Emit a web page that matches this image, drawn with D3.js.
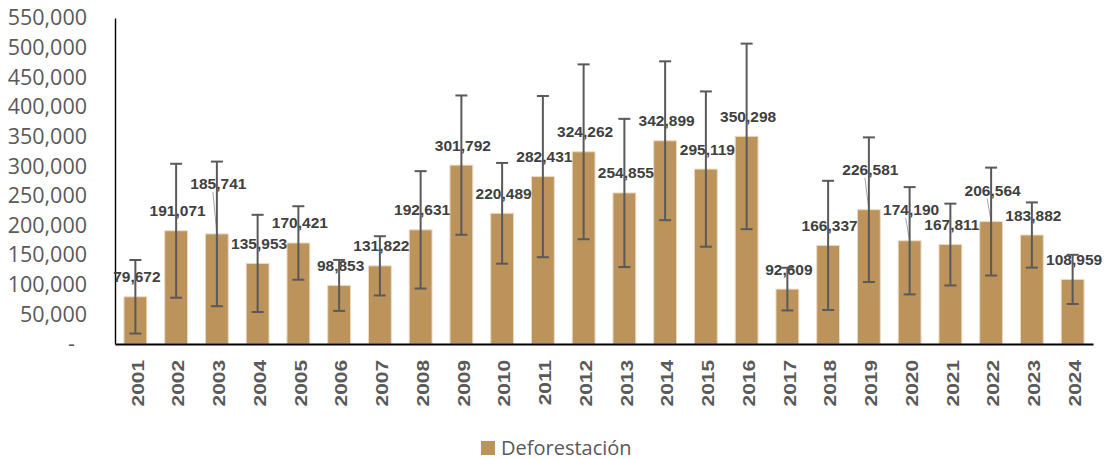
<!DOCTYPE html>
<html>
<head>
<meta charset="utf-8">
<script src="https://cdn.jsdelivr.net/npm/d3@7"></script>
<style>
  body { margin: 0; background: #fff; }
  svg { display: block; }
</style>
</head>
<body>
<svg id="chart"></svg>
<script>
// data
const years = ['2001','2002','2003','2004','2005','2006','2007','2008','2009','2010','2011','2012',
  '2013','2014','2015','2016','2017','2018','2019','2020','2021','2022','2023','2024'];
const deforestacion = [79672, 191071, 185741, 135953, 170421, 98853, 131822, 192631, 301792, 220489,
  282431, 324262, 254855, 342899, 295119, 350298, 92609, 166337, 226581, 174190, 167811, 206564,
  183882, 108959];
// +/- error amount per year
const errorAmt = [62000, 113000, 122000, 82000, 62000, 43000, 50000, 99000, 117500, 85000,
  136000, 147500, 125000, 134000, 131000, 156500, 36000, 109000, 122000, 90500, 69000, 91000,
  55000, 41500];
const yTicks = [0, 50000, 100000, 150000, 200000, 250000, 300000, 350000, 400000, 450000, 500000, 550000];
const seriesName = 'Deforestación';

// layout: extra lift (px) of labels that were dragged up in the original
const labelLift = [0,0,30,0,0,0,0,0,0,0,0,0,0,0,0,0,0,0,20,11,0,11,0,0];

const width = 1107;
const height = 459;
const plotLeft = 115, plotRight = 1093, plotTop = 18, plotBottom = 344;
const barColor = '#BB935B';
const grey = '#595959';

const svg = d3.select('#chart')
  .attr('width', width)
  .attr('height', height);

const x = d3.scaleBand()
  .domain(years)
  .range([plotLeft, plotRight])
  .paddingInner(0.44)
  .paddingOuter(0.22);

const y = d3.scaleLinear()
  .domain([0, 550000])
  .range([plotBottom, plotTop]);

const fmt = d3.format(',');

// y axis
const yAxis = svg.append('g')
  .attr('transform', `translate(${plotLeft},0)`)
  .call(d3.axisLeft(y)
    .tickValues(yTicks)
    .tickSize(0)
    .tickPadding(28)
    .tickFormat((d) => d === 0 ? '-' : fmt(d)));
yAxis.select('.domain').attr('stroke', '#000').attr('stroke-width', 1.4);
yAxis.selectAll('text')
  .attr('fill', grey)
  .style('font-family', '"Open Sans", sans-serif')
  .style('font-size', '21.5px')
  .attr('dx', (d) => d === 0 ? -12 : 0);

// bars
svg.append('g')
  .selectAll('rect')
  .data(years)
  .enter()
  .append('rect')
  .attr('x', (d) => x(d))
  .attr('y', (d, i) => y(deforestacion[i]))
  .attr('width', x.bandwidth())
  .attr('height', (d, i) => y(0) - y(deforestacion[i]))
  .attr('fill', barColor)
  .attr('stroke', '#EADBC3')
  .attr('stroke-width', 1);

// x axis (year labels are drawn a bit stretched, like the original)
const xAxis = svg.append('g')
  .attr('transform', `translate(0,${plotBottom})`)
  .call(d3.axisBottom(x).tickSize(0).tickSizeOuter(0));
xAxis.select('.domain').attr('stroke', '#000').attr('stroke-width', 2);
xAxis.selectAll('text')
  .attr('fill', grey)
  .style('font-family', '"Liberation Sans", Arial, sans-serif')
  .style('font-weight', 'bold')
  .style('font-size', '17px')
  .attr('transform', 'rotate(-90) scale(1.23,1)')
  .attr('text-anchor', 'end')
  .attr('x', -13)
  .attr('y', 2)
  .attr('dy', '0.36em');

const cx = (d) => x(d) + x.bandwidth() / 2;

// leader lines for moved labels
svg.append('g')
  .selectAll('line')
  .data(years.filter((d, i) => labelLift[i] > 0))
  .enter()
  .append('line')
  .attr('x1', (d) => cx(d) - 4)
  .attr('x2', (d) => cx(d))
  .attr('y1', (d) => y(deforestacion[years.indexOf(d)]) - 20 - labelLift[years.indexOf(d)] + 8)
  .attr('y2', (d) => y(deforestacion[years.indexOf(d)]))
  .attr('stroke', '#A6A6A6')
  .attr('stroke-width', 1);

// data labels
svg.append('g')
  .selectAll('text')
  .data(years)
  .enter()
  .append('text')
  .attr('x', (d) => cx(d) + 1.5)
  .attr('y', (d, i) => y(deforestacion[i]) - 20 - labelLift[i])
  .attr('text-anchor', 'middle')
  .attr('dominant-baseline', 'central')
  .attr('fill', '#404040')
  .style('font-family', '"Liberation Sans", Arial, sans-serif')
  .style('font-weight', 'bold')
  .style('font-size', '15.5px')
  .text((d, i) => fmt(deforestacion[i]));

// error bars
const err = svg.append('g')
  .attr('stroke', grey)
  .attr('stroke-width', 2)
  .selectAll('g')
  .data(years)
  .enter()
  .append('g');
err.append('line')
  .attr('x1', cx).attr('x2', cx)
  .attr('y1', (d, i) => y(deforestacion[i] + errorAmt[i]))
  .attr('y2', (d, i) => y(deforestacion[i] - errorAmt[i]));
err.append('line')
  .attr('x1', (d) => cx(d) - 6).attr('x2', (d) => cx(d) + 6)
  .attr('y1', (d, i) => y(deforestacion[i] + errorAmt[i]))
  .attr('y2', (d, i) => y(deforestacion[i] + errorAmt[i]));
err.append('line')
  .attr('x1', (d) => cx(d) - 6).attr('x2', (d) => cx(d) + 6)
  .attr('y1', (d, i) => y(deforestacion[i] - errorAmt[i]))
  .attr('y2', (d, i) => y(deforestacion[i] - errorAmt[i]));

// legend
const legend = svg.append('g')
  .attr('transform', 'translate(481,441)');
legend.append('rect')
  .attr('width', 14)
  .attr('height', 14)
  .attr('fill', barColor);
legend.append('text')
  .attr('x', 20)
  .attr('y', 6)
  .attr('dominant-baseline', 'central')
  .attr('fill', grey)
  .style('font-family', '"Open Sans", sans-serif')
  .style('font-size', '20px')
  .text(seriesName);
</script>
</body>
</html>
